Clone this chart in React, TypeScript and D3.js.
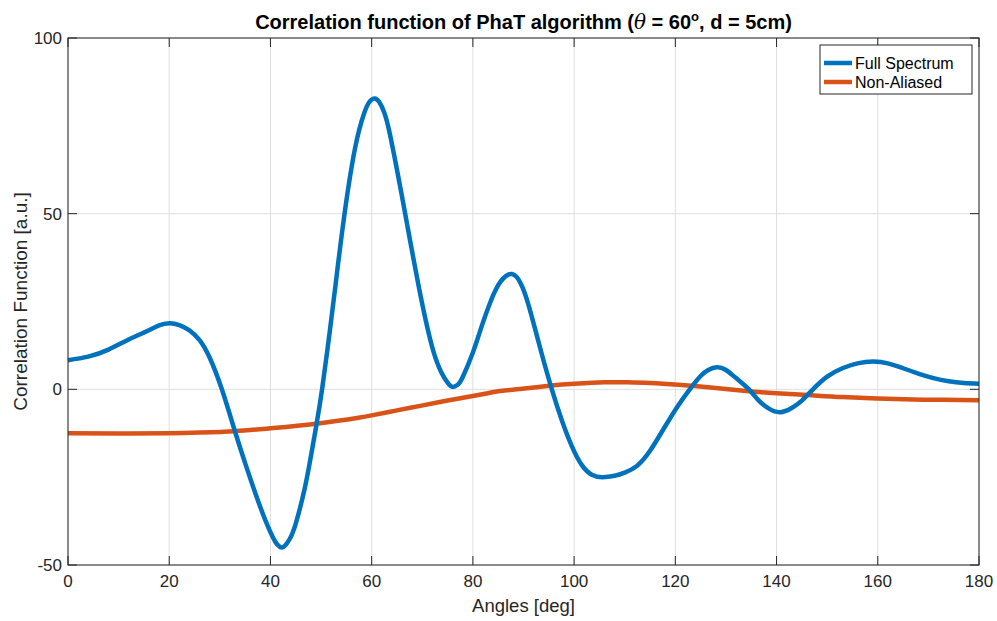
import React from "react";
import * as d3 from "d3";

const fullAngles = [0, 4, 8, 12, 16, 18, 20, 22, 24, 26, 28, 30.4, 33, 35, 37, 39, 40.5, 41.3, 42.2, 43, 43.8, 45, 46.8, 48, 49.1, 50.2, 51.5, 52.8, 54.5, 56.7, 58.5, 59.5, 60.5, 61.5, 62.5, 63.5, 65, 66.3, 67.7, 69.2, 70.7, 72.2, 73.7, 75, 76, 77, 78, 80, 81.4, 83.5, 85.5, 87.7, 89.5, 91, 92.6, 94, 95.6, 97.5, 99.5, 101.5, 103.5, 105.6, 108, 110, 112.4, 115, 118, 120.6, 123, 125, 126.5, 128.2, 130, 132, 134.4, 136.5, 138.5, 140.7, 143, 145, 147.2, 150, 153, 156, 159.1, 162, 165, 168, 171, 174, 177, 180];
const fullValues = [8.3, 9.3, 11.3, 14.2, 16.8, 18.2, 18.8, 18.3, 16.8, 14, 9, 0, -12, -21, -29.5, -37.3, -42.2, -44.1, -45, -44.3, -42.6, -38.2, -28, -19, -10, 0, 14, 29, 48.5, 68.5, 78.5, 81.7, 82.8, 81.8, 78.7, 73.3, 62.5, 52.5, 41.5, 30, 19.5, 10.8, 5, 1.9, 0.7, 1.3, 3.5, 10.5, 16.5, 25, 30.7, 32.8, 30, 24, 15.5, 8, 0, -8.5, -16, -21.5, -24.3, -25, -24.6, -23.7, -21.8, -17.5, -10.5, -4.5, 0.3, 3.8, 5.5, 6.3, 5.5, 3.2, 0.2, -3.2, -5.5, -6.5, -5.3, -3.2, 0, 3.6, 6, 7.4, 7.9, 7.4, 6, 4.5, 3.2, 2.3, 1.8, 1.6];

const nonAliasedAngles = [0, 10, 20, 26, 33, 40, 49, 57.7, 60, 65, 69.6, 75, 80, 85.4, 89.3, 95.5, 100, 106, 110, 115, 120.6, 127, 134, 140, 147, 153, 160, 167, 173, 180];
const nonAliasedValues = [-12.5, -12.6, -12.5, -12.3, -11.9, -11.1, -9.8, -8, -7.4, -6, -4.7, -3.2, -1.9, -0.5, 0.1, 1.1, 1.6, 2.0, 2.0, 1.8, 1.3, 0.5, -0.5, -1.1, -1.7, -2.2, -2.6, -2.9, -3.0, -3.1];

const xTicks = [0, 20, 40, 60, 80, 100, 120, 140, 160, 180];
const yTicks = [-50, 0, 50, 100];
const seriesNames = ["Full Spectrum", "Non-Aliased"];
const seriesColors = ["#0072BD", "#D95319"];

const W = 997;
const H = 621;
const L = 68, R = 979, T = 38, B = 565;
const FONT = "'Liberation Sans', Arial, Helvetica, sans-serif";
const AX = "#262626";

export default function App() {
  const x = d3.scaleLinear().domain([0, 180]).range([L, R]);
  const y = d3.scaleLinear().domain([-50, 100]).range([B, T]);
  const line = d3
    .line<[number, number]>()
    .x((d) => x(d[0]))
    .y((d) => y(d[1]))
    .curve(d3.curveNatural);
  const fullData: [number, number][] = fullAngles.map((a, i) => [a, fullValues[i]]);
  const naData: [number, number][] = nonAliasedAngles.map((a, i) => [a, nonAliasedValues[i]]);
  const tickLen = 9;

  return (
    <svg width={W} height={H} style={{ position: "absolute", left: 0, top: 0, background: "#fff" }} fontFamily={FONT}>
      <rect x={0} y={0} width={W} height={H} fill="#fff" />
      {xTicks.map((t) => (
        <line key={"gx" + t} x1={x(t)} x2={x(t)} y1={T} y2={B} stroke="#dfdfdf" strokeWidth={1} />
      ))}
      {yTicks.map((t) => (
        <line key={"gy" + t} x1={L} x2={R} y1={y(t)} y2={y(t)} stroke="#dfdfdf" strokeWidth={1} />
      ))}
      <path d={line(naData) || ""} fill="none" stroke={seriesColors[1]} strokeWidth={4.5} strokeLinejoin="round" />
      <path d={line(fullData) || ""} fill="none" stroke={seriesColors[0]} strokeWidth={4.5} strokeLinejoin="round" />
      <rect x={L} y={T} width={R - L} height={B - T} fill="none" stroke={AX} strokeWidth={1} />
      {xTicks.map((t) => (
        <g key={"tx" + t}>
          <line x1={x(t)} x2={x(t)} y1={B} y2={B - tickLen} stroke={AX} />
          <line x1={x(t)} x2={x(t)} y1={T} y2={T + tickLen} stroke={AX} />
          <text x={x(t)} y={B + 22} textAnchor="middle" fontSize={17} fill={AX}>{t}</text>
        </g>
      ))}
      {yTicks.map((t) => (
        <g key={"ty" + t}>
          <line x1={L} x2={L + tickLen} y1={y(t)} y2={y(t)} stroke={AX} />
          <line x1={R} x2={R - tickLen} y1={y(t)} y2={y(t)} stroke={AX} />
          <text x={L - 6} y={y(t) + 6} textAnchor="end" fontSize={17} fill={AX}>{t}</text>
        </g>
      ))}
      <text x={(L + R) / 2} y={612} textAnchor="middle" fontSize={18.5} fill={AX}>Angles [deg]</text>
      <text transform={`translate(27,${(T + B) / 2}) rotate(-90)`} textAnchor="middle" fontSize={19} fill={AX}>Correlation Function [a.u.]</text>
      <text x={(L + R) / 2} y={29} textAnchor="middle" fontSize={20} fontWeight="bold" fill="#000">
        Correlation function of PhaT algorithm (<tspan fontStyle="italic" fontFamily="'DejaVu Serif', 'Liberation Serif', serif" fontWeight="normal">θ</tspan> = 60<tspan dy={-8} fontSize={13}>o</tspan><tspan dy={8}>, d = 5cm)</tspan>
      </text>
      <rect x={820} y={45} width={152} height={49} fill="#fff" stroke={AX} strokeWidth={1} />
      {seriesNames.map((n, i) => (
        <g key={n}>
          <line x1={824} x2={852} y1={63 + i * 19} y2={63 + i * 19} stroke={seriesColors[i]} strokeWidth={4.5} />
          <text x={855} y={63 + i * 19 + 5.5} fontSize={16} fill="#000">{n}</text>
        </g>
      ))}
    </svg>
  );
}
